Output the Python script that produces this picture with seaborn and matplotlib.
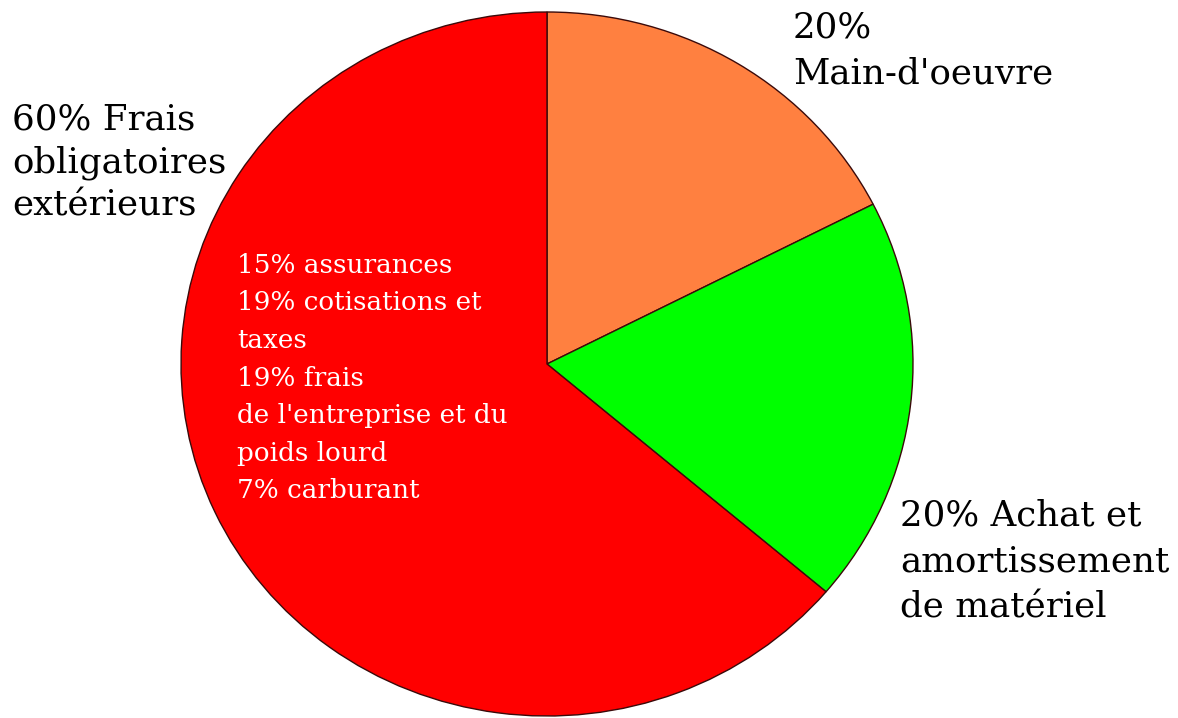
import matplotlib
matplotlib.use("Agg")
import matplotlib.pyplot as plt
import seaborn as sns

# Data (shares as drawn in the reference, clockwise from 12 o'clock)
categories = ["Main-d'oeuvre", "Achat et amortissement de matériel", "Frais obligatoires extérieurs"]
drawn_shares = [17.5, 18.7, 63.8]
slice_colors = ["#FF8040", "#00FF00", "#FF0000"]
label_main = ["20%", "Main-d'oeuvre"]
label_achat = ["20% Achat et", "amortissement", "de matériel"]
label_frais = ["60% Frais", "obligatoires", "extérieurs"]
inner_lines = ["15% assurances", "19% cotisations et", "taxes", "19% frais",
               "de l'entreprise et du", "poids lourd", "7% carburant"]

sns.set_theme(style="white")
plt.rcParams['font.family'] = ['DejaVu Serif', 'Liberation Serif']

W, H = 1178, 718
fig = plt.figure(figsize=(W / 100, H / 100), dpi=100)
fig.patch.set_facecolor("white")

# pie ellipse spans x 181..913, y 12..716 (pixels)
ax = fig.add_axes([181 / W, (H - 716) / H, 732 / W, 704 / H])
ax.pie(drawn_shares, colors=slice_colors, startangle=90, counterclock=False,
       wedgeprops=dict(edgecolor="#3a0a0a", linewidth=1.0), radius=1.0)
ax.set_aspect("auto")
ax.set_xlim(-1, 1)
ax.set_ylim(-1, 1)
ax.axis("off")

renderer = fig.canvas.get_renderer()

def fit_size(sample, target_px, base=20):
    t = fig.text(0, 0, sample, fontsize=base)
    w = t.get_window_extent(renderer).width
    t.remove()
    return base * target_px / w

big = fit_size("Main-d'oeuvre", 260)
small = fit_size("de l'entreprise et du", 270)

def px(x, y):
    return x / W, 1 - y / H

def block(lines, x, y0, step, size, color):
    for i, s in enumerate(lines):
        fig.text(*px(x, y0 + i * step), s, fontsize=size, ha="left",
                 va="baseline", color=color)

block(label_main, 793, 38, 45, big, "black")
block(label_frais, 12, 130, 43, big, "black")
block(label_achat, 900, 525, 46.5, big, "black")
block(inner_lines, 237, 273, 37.5, small, "white")

fig.savefig("out.png", dpi=100, facecolor="white")
